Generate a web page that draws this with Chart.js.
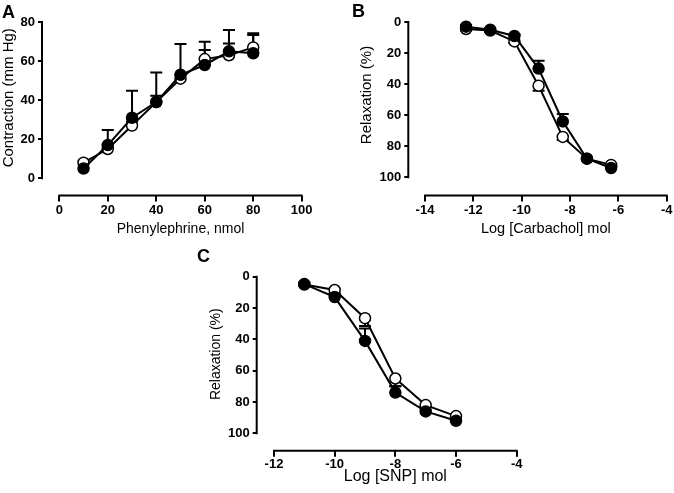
<!DOCTYPE html>
<html><head><meta charset="utf-8">
<script src="https://cdn.jsdelivr.net/npm/chart.js@4.4.1/dist/chart.umd.min.js"></script>
<style>
html,body{margin:0;padding:0;background:#fff;overflow:hidden;width:674px;height:493px;}
#wrap{position:relative;width:674px;height:493px;overflow:hidden;}
canvas{position:absolute;}
.lbl{position:absolute;font:bold 18px "Liberation Sans",Arial,sans-serif;line-height:18px;color:#000;}
</style></head><body>
<div id="wrap">
<canvas id="cA" width="335" height="240" style="left:0;top:0;width:335px;height:240px"></canvas>
<canvas id="cB" width="345" height="246" style="left:340px;top:-6px;width:345px;height:246px"></canvas>
<canvas id="cC" width="350" height="253" style="left:190px;top:240px;width:350px;height:253px"></canvas>
<div class="lbl" style="left:2px;top:3px">A</div>
<div class="lbl" style="left:352px;top:2px">B</div>
<div class="lbl" style="left:197px;top:247px">C</div>
</div>
<script>
// ---- Panel A data ----
const aDose = [10, 20, 30, 40, 50, 60, 70, 80];
const aFilled = [5, 17, 31, 39, 53, 58, 65, 64];
const aFilledSem = [0, 7.7, 13.8, 15.2, 15.7, 11.9, 10.9, 10.2];
const aOpen = [8, 15, 27, 39, 51, 61, 63, 67];
const aOpenSem = [1, 2, 2, 3.3, 2, 4.7, 6, 6.3];
const aXTicks = [0, 20, 40, 60, 80, 100];
const aYTicks = [0, 20, 40, 60, 80];

// ---- Panel B data ----
const bLogDose = [-12.3, -11.3, -10.3, -9.3, -8.3, -7.3, -6.3];
const bFilled = [3, 5, 9, 30, 64, 88, 94];
const bFilledSem = [1, 1, 1, 5, 4.8, 1, 1];
const bOpen = [4.5, 5.5, 12.5, 41, 74, 88, 92];
const bOpenSem = [1, 1, 1, 3.3, 2, 1, 1];
const bXTicks = [-14, -12, -10, -8, -6, -4];
const bYTicks = [0, 20, 40, 60, 80, 100];

// ---- Panel C data ----
const cLogDose = [-11, -10, -9, -8, -7, -6];
const cFilled = [4.7, 13, 41, 74, 86, 92];
const cFilledSem = [1, 2, 8, 4, 1, 1];
const cOpen = [5, 8.5, 26.5, 65, 82, 89];
const cOpenSem = [1, 2, 5, 5, 1, 1];
const cXTicks = [-12, -10, -8, -6, -4];
const cYTicks = [0, 20, 40, 60, 80, 100];

Chart.defaults.font.family = '"Liberation Sans", Arial, Helvetica, sans-serif';
Chart.defaults.color = '#000';

const axisLines = {
  id: 'axisLines',
  afterDatasetsDraw(chart) {
    const {ctx, chartArea, scales: {x, y}} = chart;
    const xt = chart.options.scales.x.tickList, yt = chart.options.scales.y.tickList;
    ctx.save();
    ctx.strokeStyle = '#000';
    ctx.lineWidth = 2;
    ctx.lineCap = 'square';
    ctx.beginPath();
    ctx.moveTo(chartArea.left, y.getPixelForValue(yt[0]));
    ctx.lineTo(chartArea.left, y.getPixelForValue(yt[yt.length - 1]));
    ctx.moveTo(x.getPixelForValue(xt[0]), chartArea.bottom);
    ctx.lineTo(x.getPixelForValue(xt[xt.length - 1]), chartArea.bottom);
    ctx.stroke();
    ctx.restore();
  }
};

const errorBars = {
  id: 'errorBars',
  beforeDatasetsDraw(chart) {
    const {ctx, scales: {x, y}} = chart;
    ctx.save();
    ctx.strokeStyle = '#000';
    ctx.lineWidth = 2;
    chart.data.datasets.forEach(ds => {
      ds.data.forEach((p, i) => {
        const s = ds.sem[i];
        if (!s) return;
        const px = x.getPixelForValue(p.x);
        const p0 = y.getPixelForValue(p.y);
        const p1 = y.getPixelForValue(p.y + ds.semDir * s);
        ctx.beginPath();
        ctx.moveTo(px, p0);
        ctx.lineTo(px, p1);
        ctx.moveTo(px - 6, p1);
        ctx.lineTo(px + 6, p1);
        ctx.stroke();
      });
    });
    ctx.restore();
  }
};

function zeroPad(s) { s.paddingTop = 0; s.paddingBottom = 0; s.paddingLeft = 0; s.paddingRight = 0; }

function makeChart(id, o) {
  const pts = (vals) => o.x.map((v, i) => ({x: v, y: vals[i]}));
  const base = {borderColor: '#000', borderWidth: 2, tension: 0, pointRadius: 5.5,
    pointHoverRadius: 5.5, pointBorderColor: '#000', pointBorderWidth: 1.5, clip: false};
  return new Chart(document.getElementById(id), {
    type: 'line',
    data: {datasets: [
      Object.assign({label: 'filled', data: pts(o.filled), sem: o.filledSem, semDir: o.filledDir,
        backgroundColor: '#000', pointBackgroundColor: '#000'}, base),
      Object.assign({label: 'open', data: pts(o.open), sem: o.openSem, semDir: o.openDir,
        backgroundColor: '#fff', pointBackgroundColor: '#fff'}, base)
    ]},
    options: {
      responsive: false, animation: false, devicePixelRatio: 1,
      layout: {padding: o.pad, autoPadding: false},
      events: [],
      plugins: {legend: {display: false}, tooltip: {enabled: false}},
      scales: {
        x: {
          type: 'linear', position: 'bottom', min: o.xMin, max: o.xMax, tickList: o.xTicks,
          afterBuildTicks: s => { s.ticks = o.xTicks.map(v => ({value: v})); },
          afterFit: s => { s.height = o.xH; zeroPad(s); },
          grid: {display: true, drawOnChartArea: false, drawTicks: true, tickLength: 6, color: '#000', lineWidth: 2},
          border: {display: false},
          ticks: {padding: o.xTickPad, color: '#000', font: {size: 13, weight: 'bold'}, maxRotation: 0, autoSkip: false,
            callback: v => String(v)},
          title: {display: true, text: o.xTitle, color: '#000', font: {size: o.xTitleSize, lineHeight: 1.2},
            padding: {top: 0, bottom: o.xTitlePad}}
        },
        y: {
          type: 'linear', position: 'left', min: o.yMin, max: o.yMax, reverse: o.reverse, tickList: o.yTicks,
          afterBuildTicks: s => { s.ticks = o.yTicks.map(v => ({value: v})); },
          afterFit: s => { s.width = o.yW; zeroPad(s); },
          grid: {display: true, drawOnChartArea: false, drawTicks: true, tickLength: 4, color: '#000', lineWidth: 2},
          border: {display: false},
          ticks: {padding: 3, color: '#000', font: {size: 13, weight: 'bold'}, autoSkip: false,
            callback: v => String(v)},
          title: {display: true, text: o.yTitle, color: '#000', font: {size: o.yTitleSize, lineHeight: 1.2},
            padding: {top: 0, bottom: 0}}
        }
      }
    },
    plugins: [errorBars, axisLines]
  });
}

makeChart('cA', {
  x: aDose, filled: aFilled, filledSem: aFilledSem, filledDir: 1,
  open: aOpen, openSem: aOpenSem, openDir: 1,
  xTicks: aXTicks, yTicks: aYTicks,
  xMin: -7.14, xMax: 107.14, yMin: -8.8, yMax: 91.26, reverse: false,
  pad: {top: 0, right: 16, bottom: 0, left: 0}, xH: 44.5, yW: 42, xTitlePad: 2.3, xTickPad: 1,
  xTitleSize: 14, yTitleSize: 15,
  xTitle: 'Phenylephrine, nmol', yTitle: 'Contraction (mm Hg)'
});

makeChart('cB', {
  x: bLogDose, filled: bFilled, filledSem: bFilledSem, filledDir: -1,
  open: bOpen, openSem: bOpenSem, openDir: 1,
  xTicks: bXTicks, yTicks: bYTicks,
  xMin: -14.69, xMax: -3.31, yMin: -17.71, yMax: 111.7, reverse: true,
  pad: {top: 0.5, right: 1.6, bottom: 0, left: 18}, xH: 44.5, yW: 50.3, xTitlePad: 2.3, xTickPad: 1,
  xTitleSize: 14.5, yTitleSize: 15,
  xTitle: 'Log [Carbachol] mol', yTitle: 'Relaxation (%)'
});

makeChart('cC', {
  x: cLogDose, filled: cFilled, filledSem: cFilledSem, filledDir: -1,
  open: cOpen, openSem: cOpenSem, openDir: 1,
  xTicks: cXTicks, yTicks: cYTicks,
  xMin: -12.57, xMax: -3.43, yMin: -12.13, yMax: 111.1, reverse: true,
  pad: {top: 17.7, right: 6, bottom: 0, left: 17.6}, xH: 42.3, yW: 49.1, xTitlePad: 6.9, xTickPad: 0,
  xTitleSize: 16, yTitleSize: 14,
  xTitle: 'Log [SNP] mol', yTitle: 'Relaxation (%)'
});
</script>
</body></html>
